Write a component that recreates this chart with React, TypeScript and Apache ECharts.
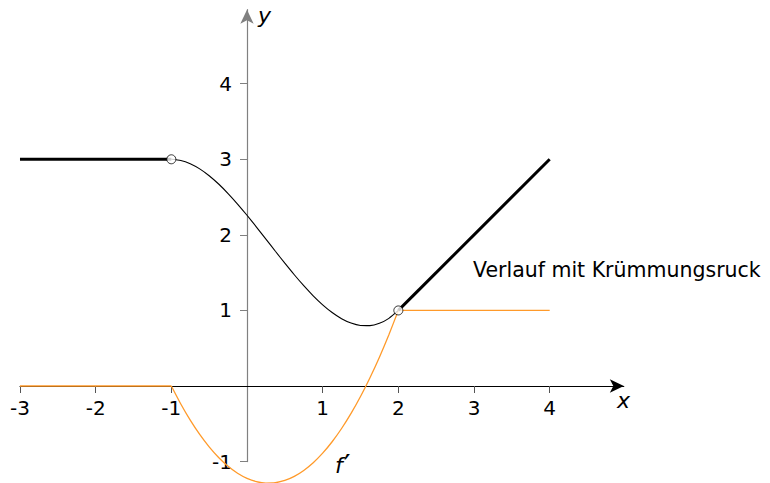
import React, { useEffect, useRef } from "react";
import * as echarts from "echarts";

// Data
const xTickValues = [-3, -2, -1, 1, 2, 3, 4];
const yTickValues = [-1, 1, 2, 3, 4];

const fLeft: [number, number][] = [[-3, 3], [-1, 3]];
const fMid: [number, number][] = [
  [-1, 3], [-0.875, 2.9849], [-0.75, 2.9416], [-0.625, 2.873], [-0.5, 2.7824],
  [-0.375, 2.6727], [-0.25, 2.5469], [-0.125, 2.4081], [0, 2.2593], [0.125, 2.1035],
  [0.25, 1.9439], [0.375, 1.7833], [0.5, 1.625], [0.625, 1.4719], [0.75, 1.327],
  [0.875, 1.1934], [1, 1.0741], [1.125, 0.9722], [1.25, 0.8906], [1.375, 0.8325],
  [1.5, 0.8009], [1.625, 0.7988], [1.75, 0.8293], [1.875, 0.8953], [2, 1],
];
const fRight: [number, number][] = [[2, 1], [4, 3]];

const dLeft: [number, number][] = [[-3, 0], [-1, 0]];
const dMid: [number, number][] = [
  [-1, 0], [-0.875, -0.2378], [-0.75, -0.4514], [-0.625, -0.6406], [-0.5, -0.8056],
  [-0.375, -0.9462], [-0.25, -1.0625], [-0.125, -1.1545], [0, -1.2222], [0.125, -1.2656],
  [0.25, -1.2847], [0.375, -1.2795], [0.5, -1.25], [0.625, -1.1962], [0.75, -1.1181],
  [0.875, -1.0156], [1, -0.8889], [1.125, -0.7378], [1.25, -0.5625], [1.375, -0.3628],
  [1.5, -0.1389], [1.625, 0.1094], [1.75, 0.3819], [1.875, 0.6788], [2, 1],
];
const dRight: [number, number][] = [[2, 1], [4, 1]];

const openPoints: [number, number][] = [[-1, 3], [2, 1]];

const annotation = "Verlauf mit Krümmungsruck";

const ORANGE = "#ff9a2a";
const FONT = "DejaVu Sans";

// Layout (pixels)
const X_MIN = -3;
const X_MAX = 4.98;
const Y_MIN = -1;
const Y_MAX = 4.98;
const UX = 75.67;
const UY = 75.57;
const X0PX = 247;
const Y0PX = 386;

export default function App() {
  const ref = useRef<HTMLDivElement>(null);
  useEffect(() => {
    if (!ref.current) return;
    const chart = echarts.init(ref.current, null, { renderer: "svg" });
    const lineBase = (data: [number, number][], color: string, width: number, smooth = false, z = 2) => ({
      type: "line" as const,
      data,
      symbol: "none",
      smooth: smooth ? 0.2 : false,
      clip: false,
      z,
      lineStyle: { color, width },
      silent: true,
    });
    chart.setOption({
      animation: false,
      grid: {
        left: X0PX + X_MIN * UX,
        top: Y0PX - Y_MAX * UY,
        width: (X_MAX - X_MIN) * UX,
        height: (Y_MAX - Y_MIN) * UY,
        outerBoundsMode: "none",
        containLabel: false,
      },
      xAxis: {
        type: "value",
        position: "bottom",
        offset: -(0 - Y_MIN) * UY,
        min: X_MIN,
        max: X_MAX,
        interval: 1,
        splitLine: { show: false },
        axisLine: {
          onZero: false,
          lineStyle: { color: "#000", width: 1 },
          symbol: ["none", "arrow"],
          symbolSize: [10, 14],
        },
        axisTick: { show: true, length: 7, customValues: xTickValues, lineStyle: { color: "#555" } },
        axisLabel: {
          customValues: xTickValues,
          formatter: (v: number) => (xTickValues.includes(v) ? String(v) : ""),
          color: "#000",
          fontFamily: FONT,
          fontSize: 20,
          margin: 12,
        },
      },
      yAxis: {
        type: "value",
        position: "left",
        offset: -(0 - X_MIN) * UX,
        min: Y_MIN,
        max: Y_MAX,
        interval: 1,
        splitLine: { show: false },
        axisLine: {
          onZero: false,
          lineStyle: { color: "#808080", width: 1.2 },
          symbol: ["none", "arrow"],
          symbolSize: [10, 14],
        },
        axisTick: { show: true, length: 7, customValues: yTickValues, lineStyle: { color: "#808080" } },
        axisLabel: {
          customValues: yTickValues,
          formatter: (v: number) => (yTickValues.includes(v) ? String(v) : ""),
          color: "#000",
          fontFamily: FONT,
          fontSize: 20,
          margin: 15,
        },
      },
      series: [
        lineBase(dLeft, ORANGE, 1.3, false, 2),
        lineBase(dMid, ORANGE, 1.3, true, 2),
        lineBase(dRight, ORANGE, 1.3, false, 2),
        lineBase(fLeft, "#000", 3, false, 3),
        lineBase(fMid, "#000", 1.1, true, 3),
        lineBase(fRight, "#000", 3, false, 3),
        {
          type: "scatter",
          data: openPoints,
          symbol: "circle",
          symbolSize: 9,
          z: 5,
          clip: false,
          silent: true,
          itemStyle: { color: "#fff", borderColor: "#000", borderWidth: 1 },
        },
      ],
      graphic: [
        {
          type: "text",
          left: 473,
          top: 259,
          style: { text: annotation, fontFamily: FONT, fontSize: 20.5, fill: "#000" },
        },
        {
          type: "text",
          left: 617,
          top: 389,
          style: { text: "x", fontFamily: FONT, fontStyle: "italic", fontSize: 22, fill: "#000" },
        },
        {
          type: "text",
          left: 258,
          top: 4,
          style: { text: "y", fontFamily: FONT, fontStyle: "italic", fontSize: 22, fill: "#000" },
        },
        {
          type: "text",
          left: 335,
          top: 450,
          style: {
            text: "{f|f}{p|\u2032}",
            fill: "#000",
            rich: {
              f: { fontFamily: FONT, fontStyle: "italic", fontSize: 22, fill: "#000" },
              p: { fontFamily: FONT, fontSize: 30, fill: "#000", padding: [0, 0, 0, 1] },
            },
          },
        },
      ],
    });
    return () => chart.dispose();
  }, []);
  return (
    <div
      ref={ref}
      style={{ position: "absolute", left: 0, top: 0, width: 770, height: 483, background: "#fff" }}
    />
  );
}
